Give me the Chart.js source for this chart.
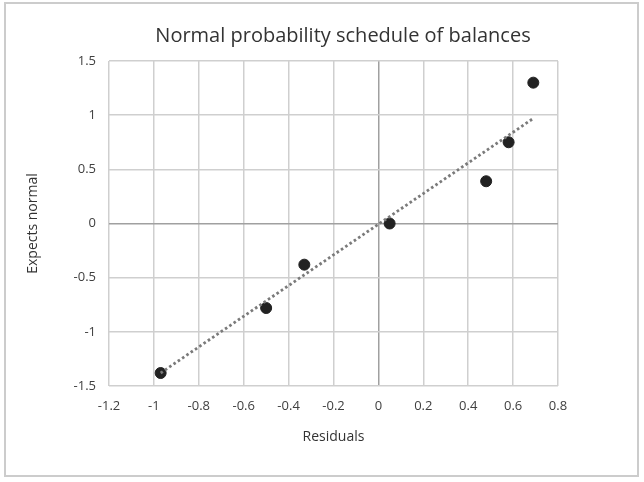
<!DOCTYPE html>
<html><head><meta charset="utf-8">
<script src="https://cdn.jsdelivr.net/npm/chart.js@4/dist/chart.umd.min.js"></script>
<style>html,body{margin:0;padding:0;background:#fff;}#wrap{width:644px;height:482px;position:relative;}</style>
</head><body><div id="wrap"><canvas id="c" width="644" height="482"></canvas></div>
<script>
const chartTitle = 'Normal probability schedule of balances';
const xAxisTitle = 'Residuals';
const yAxisTitle = 'Expects normal';
const residuals = [-0.97, -0.50, -0.33, 0.05, 0.48, 0.58, 0.69];
const expectedNormal = [-1.38, -0.78, -0.38, 0.00, 0.39, 0.75, 1.30];
const trendX = [-0.97, 0.69];
const trendY = [-1.38, 0.97];
const xTicks = [-1.2, -1, -0.8, -0.6, -0.4, -0.2, 0, 0.2, 0.4, 0.6, 0.8];
const yTicks = [-1.5, -1, -0.5, 0, 0.5, 1, 1.5];

const FONT = '"Open Sans", "DejaVu Sans", sans-serif';
const pts = residuals.map((x, i) => ({x: x, y: expectedNormal[i]}));
const trend = trendX.map((x, i) => ({x: x, y: trendY[i]}));

const frame = {
  id: 'frame',
  beforeDraw(chart) {
    const ctx = chart.ctx;
    ctx.save();
    ctx.fillStyle = '#ffffff';
    ctx.fillRect(0, 0, chart.width, chart.height);
    ctx.strokeStyle = '#cccccc';
    ctx.lineWidth = 2;
    ctx.strokeRect(5, 3, 633, 473);
    ctx.restore();
  },
  afterDraw(chart) {
    const ctx = chart.ctx;
    ctx.save();
    ctx.font = '20px ' + FONT;
    ctx.fillStyle = '#333333';
    ctx.textAlign = 'center';
    ctx.textBaseline = 'middle';
    ctx.fillText(chartTitle, 343, 36);
    ctx.restore();
  }
};

const gridColor = ctx => (ctx.tick && ctx.tick.value === 0) ? '#a0a0a0' : '#cfcfcf';

new Chart(document.getElementById('c'), {
  type: 'scatter',
  data: {
    datasets: [
      {
        label: 'Trend',
        type: 'line',
        data: trend,
        borderColor: '#7a7a7a',
        borderWidth: 2.8,
        borderDash: [2.6, 2.6],
        pointRadius: 0,
        fill: false,
        order: 0
      },
      {
        label: 'Expects normal',
        data: pts,
        backgroundColor: '#222222',
        borderColor: '#222222',
        pointRadius: 5.5,
        pointHoverRadius: 5.5,
        order: 1
      }
    ]
  },
  options: {
    responsive: false,
    devicePixelRatio: 1,
    animation: false,
    layout: {padding: {left: 0, top: 61, right: 86, bottom: 33}},
    plugins: {legend: {display: false}, tooltip: {enabled: false}, title: {display: false}},
    scales: {
      x: {
        type: 'linear',
        min: -1.2, max: 0.8,
        afterBuildTicks: s => { s.ticks = xTicks.map(v => ({value: v})); },
        afterFit: s => { s.height = 63; },
        ticks: {padding: 12, color: '#404040', font: {family: FONT, size: 13}, callback: v => String(v), maxRotation: 0, autoSkip: false},
        grid: {color: gridColor, lineWidth: 1.5, drawTicks: false},
        border: {display: false},
        title: {display: true, text: xAxisTitle, color: '#333333', font: {family: FONT, size: 14}, padding: {top: 4, bottom: 4}}
      },
      y: {
        type: 'linear',
        min: -1.5, max: 1.5,
        afterBuildTicks: s => { s.ticks = yTicks.map(v => ({value: v})); },
        afterFit: s => { s.width = 109; },
        ticks: {padding: 13, color: '#404040', font: {family: FONT, size: 13}, callback: v => String(v)},
        grid: {color: gridColor, lineWidth: 1.5, drawTicks: false},
        border: {display: false},
        title: {display: true, text: yAxisTitle, color: '#333333', font: {family: FONT, size: 14}, padding: {top: 25, bottom: 4}}
      }
    }
  },
  plugins: [frame]
});
</script>
</body></html>
